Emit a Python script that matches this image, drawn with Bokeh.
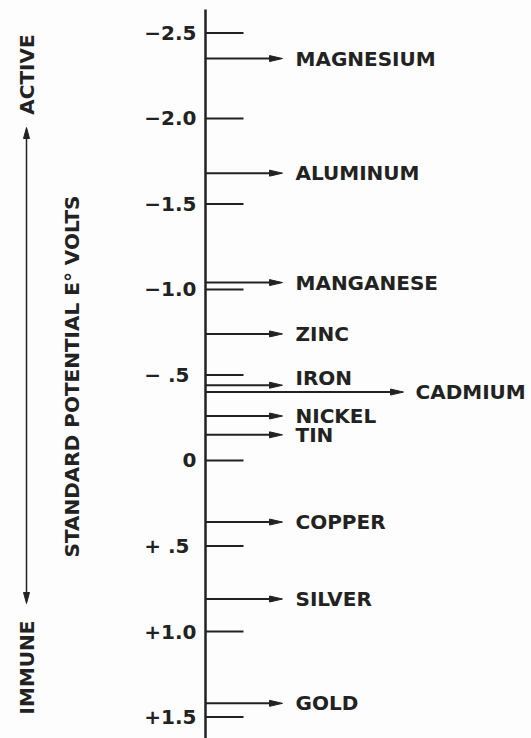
import math
from bokeh.plotting import figure
from bokeh.models import Range1d, ColumnDataSource
from bokeh.core.properties import value
from bokeh.embed import file_html
from bokeh.resources import INLINE

# ---------------- data ----------------
tick_values = [-2.5, -2.0, -1.5, -1.0, -0.5, 0.0, 0.5, 1.0, 1.5]
tick_labels = ["\u22122.5", "\u22122.0", "\u22121.5", "\u22121.0", "\u2212  .5", "0", "+  .5", "+1.0", "+1.5"]
metals = ["MAGNESIUM", "ALUMINUM", "MANGANESE", "ZINC", "IRON", "CADMIUM",
          "NICKEL", "TIN", "COPPER", "SILVER", "GOLD"]
potentials = [-2.35, -1.68, -1.04, -0.74, -0.44, -0.40, -0.26, -0.15, 0.36, 0.81, 1.42]
axis_title = "STANDARD POTENTIAL E\u00b0 VOLTS"
top_label = "ACTIVE"
bottom_label = "IMMUNE"

# ---------------- layout / style ----------------
W, H = 531, 738
Y0 = 459.98      # pixel row of 0 V
K = 171.03       # pixels per volt
def px2v(py):
    return (py - Y0) / K

AXIS_X = 205
TICK_END = 243
TICK_LABEL_X = 196
ARROW_END = 282
LONG_ARROW_END = 403
LABEL_X = 295
LONG_LABEL_X = 415
HEAD_L, HEAD_W = 13, 3.0
long_arrows = {"CADMIUM"}
label_shift_px = {"IRON": -7}

INK = "#222222"
FONT = value("DejaVu Sans")

p = figure(width=W, height=H, x_range=Range1d(0, W),
           y_range=Range1d(px2v(H), px2v(0)),
           output_backend="svg", toolbar_location=None, min_border=0,
           background_fill_color="#fdfdfd", border_fill_color="#fdfdfd")
p.axis.visible = False
p.grid.visible = False
p.outline_line_color = None

# main scale line
p.segment(x0=[AXIS_X], y0=[px2v(9)], x1=[AXIS_X], y1=[px2v(760)],
          line_color=INK, line_width=2.5)

# ticks
p.segment(x0=[AXIS_X] * len(tick_values), y0=tick_values,
          x1=[TICK_END] * len(tick_values), y1=tick_values,
          line_color=INK, line_width=2)
p.text(x=[TICK_LABEL_X] * len(tick_values), y=tick_values, text=tick_labels,
       text_font=FONT, text_font_style="bold", text_font_size="20px",
       text_align="right", text_baseline="middle", text_color=INK)

# metal arrows
ends = [LONG_ARROW_END if m in long_arrows else ARROW_END for m in metals]
lx = [LONG_LABEL_X if m in long_arrows else LABEL_X for m in metals]
ly = [v + label_shift_px.get(m, 0) / K for m, v in zip(metals, potentials)]
src = ColumnDataSource(dict(x0=[AXIS_X] * len(metals), x1=[e - HEAD_L + 2 for e in ends],
                            y=potentials, lx=lx, ly=ly, name=metals))
p.segment(x0="x0", y0="y", x1="x1", y1="y", source=src, line_color=INK, line_width=2)
hx = [[e, e - HEAD_L, e - HEAD_L] for e in ends]
hy = [[v, v - HEAD_W / K, v + HEAD_W / K] for v in potentials]
p.patches(xs=hx, ys=hy, fill_color=INK, line_color=INK, line_width=1)
p.text(x="lx", y="ly", text="name", source=src,
       text_font=FONT, text_font_style="bold", text_font_size="20px",
       text_align="left", text_baseline="middle", text_color=INK)

# left side: axis title and ACTIVE / IMMUNE double arrow
p.text(x=[71], y=[px2v(376)], text=[axis_title], angle=math.pi / 2,
       text_font=FONT, text_font_style="bold", text_font_size="20px",
       text_align="center", text_baseline="middle", text_color=INK)
p.text(x=[26, 26], y=[px2v(74), px2v(667)], text=[top_label, bottom_label], angle=math.pi / 2,
       text_font=FONT, text_font_style="bold", text_font_size="20px",
       text_align="center", text_baseline="middle", text_color=INK)
AX = 26
top_tip, bot_tip = px2v(127), px2v(603)
p.segment(x0=[AX], y0=[top_tip + 8 / K], x1=[AX], y1=[bot_tip - 8 / K],
          line_color=INK, line_width=1.5)
p.patches(xs=[[AX, AX - 3, AX + 3], [AX, AX - 3, AX + 3]],
          ys=[[top_tip, top_tip + 11 / K, top_tip + 11 / K],
              [bot_tip, bot_tip - 11 / K, bot_tip - 11 / K]],
          fill_color=INK, line_color=INK, line_width=1)

open("out.html", "w").write(file_html(p, INLINE))
